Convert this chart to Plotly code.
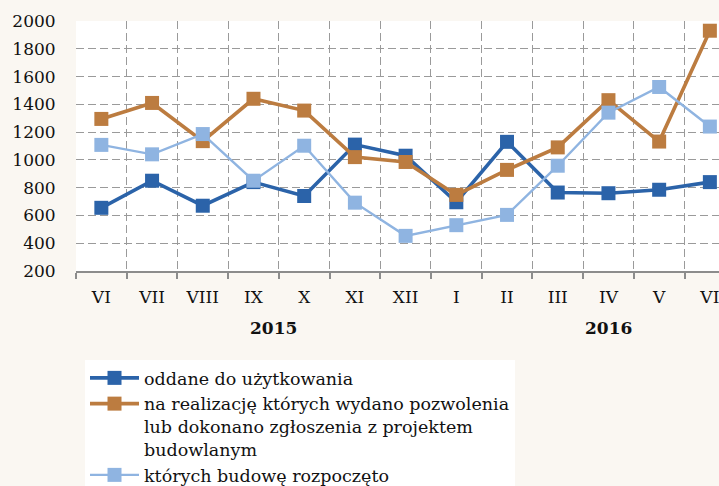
import plotly.graph_objects as go

months = ["VI", "VII", "VIII", "IX", "X", "XI", "XII", "I", "II", "III", "IV", "V", "VI"]
oddane = [655, 850, 670, 840, 740, 1110, 1030, 695, 1130, 765, 760, 785, 840]
pozwolenia = [1295, 1410, 1135, 1440, 1355, 1020, 985, 748, 928, 1090, 1430, 1132, 1930]
rozpoczete = [1108, 1040, 1186, 850, 1102, 692, 453, 530, 604, 958, 1340, 1525, 1240]
years = ["2015", "2016"]
year_pos = [3.4, 10]

names = [
    "oddane do użytkowania",
    "na realizację których wydano pozwolenia<br>lub dokonano zgłoszenia z projektem<br>budowlanym",
    "których budowę rozpoczęto",
]
colors = ["#2b63a9", "#bc7c40", "#8fb4e1"]
widths = [3.6, 3.6, 2.4]
series = [oddane, pozwolenia, rozpoczete]

FONT = "DejaVu Serif"

fig = go.Figure()
for vals, name, col, w in zip(series, names, colors, widths):
    fig.add_trace(go.Scatter(
        x=list(range(len(months))), y=vals, name=name, mode="lines+markers",
        line=dict(color=col, width=w),
        marker=dict(symbol="square", size=14, color=col),
    ))

for yr, xp in zip(years, year_pos):
    fig.add_annotation(x=xp, y=-0.228, xref="x", yref="paper", text="<b>" + yr + "</b>",
                       showarrow=False, font=dict(family=FONT, size=17, color="#111"),
                       xanchor="center", yanchor="middle")

fig.update_layout(
    width=719, height=486,
    margin=dict(l=76, r=0, t=21, b=215, autoexpand=False),
    paper_bgcolor="#faf7f2", plot_bgcolor="#ffffff",
    font=dict(family=FONT, size=17, color="#111"),
    showlegend=True,
    legend=dict(x=0.014, y=-0.356, xref="paper", yref="paper", xanchor="left", yanchor="top",
                bgcolor="#ffffff", borderwidth=0, font=dict(family=FONT, size=17.5, color="#111"),
                itemwidth=49, tracegroupgap=0, valign="top"),
)
fig.update_xaxes(
    type="linear", range=[-0.5, 12.18],
    tickmode="array", tickvals=list(range(len(months))), ticktext=months,
    showgrid=False, zeroline=False,
    showline=True, linecolor="#8c8c8c", linewidth=2,
    ticks="", ticklabelstandoff=10, ticklabeloverflow="allow",
)
fig.update_xaxes(minor=dict(tickmode="array", tickvals=[i - 0.5 for i in range(14)],
                            showgrid=True, gridcolor="#9a9a9a", gridwidth=1.3, griddash="8px,4px",
                            ticks="outside", ticklen=6, tickcolor="#8c8c8c", tickwidth=1.5))
fig.update_yaxes(
    range=[200, 2000], tickmode="array", tickvals=list(range(200, 2001, 200)),
    showgrid=True, gridcolor="#9a9a9a", gridwidth=1.3, griddash="8px,4px",
    zeroline=False, showline=False, ticks="outside", ticklen=16, tickcolor="rgba(0,0,0,0)",
)
fig.write_html("out.html", config={"displayModeBar": False},
               post_script="document.body.style.margin='0';document.body.style.overflow='hidden';")
